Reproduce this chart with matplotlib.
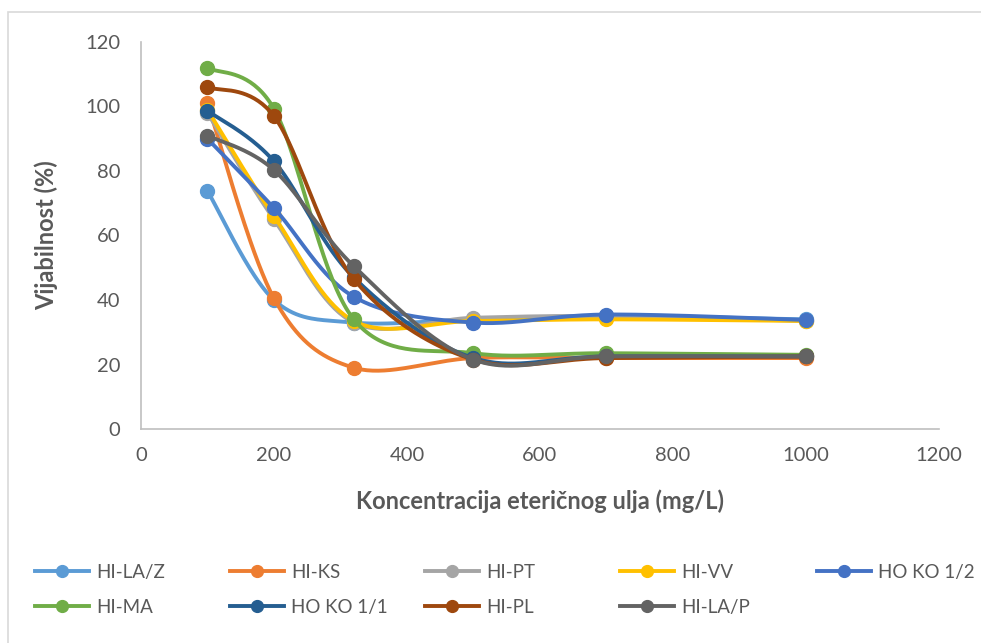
import numpy as np
from matplotlib import pyplot as plt
from matplotlib.patches import Rectangle


#------------------------------------------------------------------------------
#	Data
#------------------------------------------------------------------------------
conc = [100, 200, 320, 500, 700, 1000]

names = ['HI-LA/Z', 'HI-KS', 'HI-PT', 'HI-VV', 'HO KO 1/2',
		 'HI-MA', 'HO KO 1/1', 'HI-PL', 'HI-LA/P']

hi_la_z  = [73.8, 40.0, 33.0, 34.0, 35.0, 34.0]
hi_ks    = [101.0, 40.5, 19.0, 22.0, 22.0, 22.0]
hi_pt    = [98.0, 65.0, 33.0, 34.5, 35.0, 33.5]
hi_vv    = [99.0, 66.0, 33.5, 33.5, 34.0, 33.5]
ho_ko_12 = [90.0, 68.5, 41.0, 33.0, 35.5, 33.8]
hi_ma    = [112.0, 99.3, 34.0, 23.5, 23.5, 23.0]
ho_ko_11 = [98.7, 83.0, 47.0, 22.0, 22.5, 22.5]
hi_pl    = [106.0, 97.0, 46.5, 21.5, 22.0, 22.5]
hi_la_p  = [91.0, 80.3, 50.5, 21.5, 22.5, 22.5]

series = [hi_la_z, hi_ks, hi_pt, hi_vv, ho_ko_12, hi_ma, ho_ko_11, hi_pl, hi_la_p]
colors = ['#5B9BD5', '#ED7D31', '#A5A5A5', '#FFC000', '#4472C4',
		  '#70AD47', '#255E91', '#9E480E', '#636363']


#------------------------------------------------------------------------------
#	Excel-like smoothing (Bezier through the points)
#------------------------------------------------------------------------------
def smooth(x, y, n=40):
	p = np.column_stack([x, y]).astype(float)
	pts = np.vstack([p[0], p, p[-1]])
	out = []
	t = np.linspace(0, 1, n)[:, None]
	for i in range(1, len(pts) - 2):
		p0, p3 = pts[i], pts[i + 1]
		p1 = p0 + (pts[i + 1] - pts[i - 1]) / 6.0
		p2 = p3 - (pts[i + 2] - pts[i]) / 6.0
		seg = ((1 - t) ** 3) * p0 + 3 * ((1 - t) ** 2) * t * p1 \
			+ 3 * (1 - t) * t ** 2 * p2 + t ** 3 * p3
		out.append(seg)
	c = np.vstack(out)
	return c[:, 0], c[:, 1]


#------------------------------------------------------------------------------
#	Plot
#------------------------------------------------------------------------------
plt.rcParams['font.family'] = ['Lato', 'DejaVu Sans']
grey = '#595959'

fig = plt.figure(figsize=(9.81, 6.43), dpi=100)
ax = fig.add_axes([0.1437, 0.3328, 0.8135, 0.6019])

handles = []
for vals, name, col in zip(series, names, colors):
	sx, sy = smooth(conc, vals)
	ax.plot(sx, sy, color=col, lw=2.8, solid_capstyle='round')
	ax.plot(conc, vals, 'o', color=col, ms=10)
	h, = ax.plot([], [], '-o', color=col, lw=2.8, ms=8.5, label=name)
	handles.append(h)

ax.set_xlim(0, 1200)
ax.set_ylim(0, 120)
ax.set_xticks(np.arange(0, 1201, 200))
ax.set_yticks(np.arange(0, 121, 20))
ax.tick_params(length=0, labelsize=14.5, colors=grey)
ax.tick_params(axis='y', pad=15)
ax.tick_params(axis='x', pad=13)
for s in ['top', 'right']:
	ax.spines[s].set_visible(False)
for s in ['left', 'bottom']:
	ax.spines[s].set_color('#BFBFBF')
	ax.spines[s].set_linewidth(1.2)

ax.set_ylabel('Vijabilnost (%)', fontsize=17, fontweight='bold', color=grey, labelpad=19)
ax.set_xlabel('Koncentracija eteričnog ulja (mg/L)', fontsize=17, fontweight='bold',
			  color=grey, labelpad=18)

# legend: row-major like Excel, one legend per column so columns are evenly spaced
col_x = [35, 230, 425, 620, 817]
for c, x0 in enumerate(col_x):
	idx = [i for i in (c, c + 5) if i < len(names)]
	leg = fig.legend([handles[i] for i in idx], [names[i] for i in idx],
					 loc='upper left', bbox_to_anchor=(x0 / 981, 1 - 564 / 643),
					 frameon=False, fontsize=13.5, handlelength=2.9,
					 handletextpad=0.35, labelspacing=0.95, borderpad=0,
					 borderaxespad=0)
	for t in leg.get_texts():
		t.set_color(grey)

# chart border
fig.patches.append(Rectangle((8 / 981, -0.1), 1.1, (643 - 12) / 643 + 0.1,
							 transform=fig.transFigure, fill=False,
							 edgecolor='#D9D9D9', lw=1.2))

plt.savefig('out.png', dpi=100)
